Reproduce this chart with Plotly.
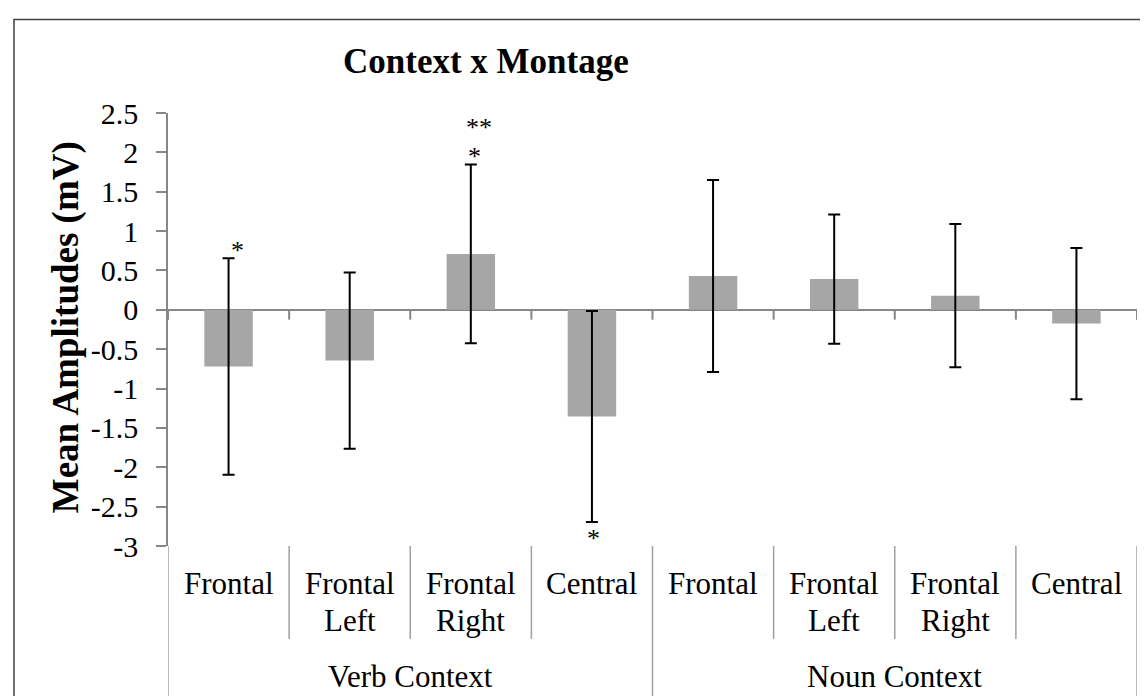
import plotly.graph_objects as go

# ---- data ----
groups = ["Verb Context", "Noun Context"]
montages = ["Frontal", "Frontal Left", "Frontal Right", "Central",
            "Frontal", "Frontal Left", "Frontal Right", "Central"]
means = [-0.72, -0.645, 0.71, -1.355, 0.43, 0.39, 0.18, -0.175]
errors = [1.375, 1.12, 1.135, 1.34, 1.22, 0.82, 0.91, 0.96]
# significance markers: category index, text, y value
sig_idx = [0, 2, 2, 3]
sig_text = ["*", "*", "**", "*"]
sig_y = [0.81, 2.0, 2.37, -2.86]
y_ticks = [2.5, 2, 1.5, 1, 0.5, 0, -0.5, -1, -1.5, -2, -2.5, -3]

# ---- style ----
FONT = "Liberation Serif, Times New Roman, serif"
AXIS_COLOR = "#878787"
DIV_COLOR = "#A0A0A0"
sig_dx = [0.07, 0.03, 0.07, 0.01]

W, H = 1148, 696
L, R, T, B = 160, 19, 104.5, 158
PW, PH = W - L - R, H - T - B
bottom_px = H - B


def py(ypix):
    return (bottom_px - ypix) / PH


def px(xpix):
    return (xpix - L) / PW


xs = list(range(len(means)))

fig = go.Figure()
fig.add_trace(go.Bar(
    x=xs, y=means, width=0.4,
    marker=dict(color="#A6A6A6", line=dict(width=0)),
    error_y=dict(type="data", array=errors, visible=True,
                 color="black", thickness=2, width=6),
    showlegend=False, hoverinfo="skip",
))

shapes = []
annotations = []

# tick marks below the zero line at category boundaries
for b in [i + 0.5 for i in range(-1, len(means))]:
    shapes.append(dict(type="line", xref="x", yref="y", x0=b, x1=b, y0=0, y1=-0.125,
                       line=dict(color=AXIS_COLOR, width=2)))

n_per = len(montages) // len(groups)
# inner dividers
for i in range(len(montages) - 1):
    if (i + 1) % n_per == 0:
        continue
    b = i + 0.5
    shapes.append(dict(type="line", xref="x", yref="paper", x0=b, x1=b,
                       y0=py(538), y1=py(631), line=dict(color=DIV_COLOR, width=1.5)))
# group dividers
for g in range(len(groups) + 1):
    b = g * n_per - 0.5
    shapes.append(dict(type="line", xref="x", yref="paper", x0=b, x1=b,
                       y0=py(538), y1=py(690), line=dict(color=DIV_COLOR, width=1.5)))

# category labels
for i, m in enumerate(montages):
    for k, part in enumerate(m.split(" ")):
        annotations.append(dict(x=i, y=py(575.5 + 37 * k), xref="x", yref="paper",
                                text=part, showarrow=False, yanchor="middle",
                                font=dict(family=FONT, size=31, color="black")))
for g, name in enumerate(groups):
    annotations.append(dict(x=g * n_per + (n_per - 1) / 2, y=py(668.5), xref="x",
                            yref="paper", text=name, showarrow=False, yanchor="middle",
                            font=dict(family=FONT, size=31, color="black")))

# significance asterisks
for i, t, yv, dx in zip(sig_idx, sig_text, sig_y, sig_dx):
    annotations.append(dict(x=i + dx, y=yv, xref="x", yref="y", text=t,
                            showarrow=False, yanchor="middle", yshift=-4,
                            font=dict(family=FONT, size=26, color="black")))

# title
annotations.append(dict(x=px(478), y=py(53), xref="paper", yref="paper",
                        text="<b>Context x Montage</b>", showarrow=False,
                        xanchor="center", yanchor="middle",
                        font=dict(family=FONT, size=35, color="black")))
# y-axis title
annotations.append(dict(x=px(58), y=py(319), xref="paper", yref="paper",
                        text="<b>Mean Amplitudes (mV)</b>", showarrow=False,
                        textangle=-90, xanchor="center", yanchor="middle",
                        font=dict(family=FONT, size=37, color="black")))

# outer chart border
shapes.append(dict(type="rect", xref="paper", yref="paper",
                   x0=px(6), x1=px(1146), y0=py(705), y1=py(11),
                   line=dict(color="#404040", width=1.5)))

fig.update_layout(
    width=W, height=H,
    margin=dict(l=L, r=R, t=T, b=B),
    paper_bgcolor="white", plot_bgcolor="white",
    xaxis=dict(range=[-0.5, len(means) - 0.5], showticklabels=False, showgrid=False,
               zeroline=False, showline=False, ticks=""),
    yaxis=dict(range=[-3, 2.5], tickvals=y_ticks, ticktext=[f"{v:g}" for v in y_ticks],
               showgrid=False, zeroline=True, zerolinecolor=AXIS_COLOR, zerolinewidth=2,
               showline=True, linecolor=AXIS_COLOR, linewidth=1.5,
               ticks="outside", ticklen=10, tickcolor=AXIS_COLOR, tickwidth=1.5,
               ticklabelstandoff=12,
               tickfont=dict(family=FONT, size=30, color="black")),
    shapes=shapes, annotations=annotations,
)

fig.write_html("out.html")
